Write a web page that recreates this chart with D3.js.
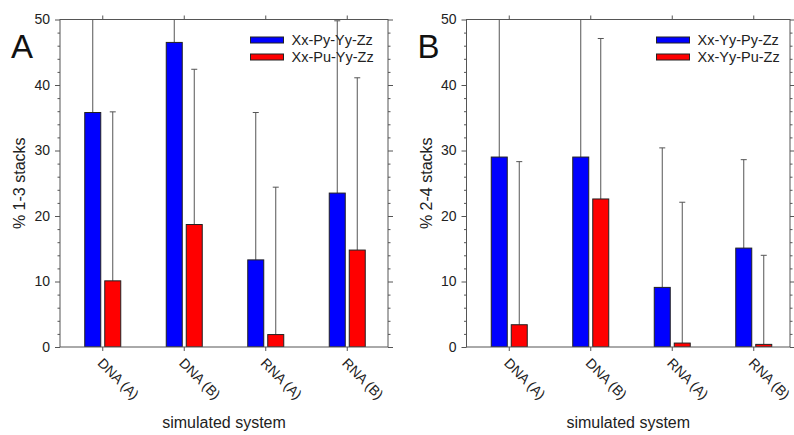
<!DOCTYPE html>
<html>
<head>
<meta charset="utf-8">
<script src="https://cdn.jsdelivr.net/npm/d3@7/dist/d3.min.js"></script>
<style>
  html, body { margin: 0; padding: 0; background: #fff; }
  svg { display: block; font-family: "Liberation Sans", Arial, sans-serif; }
</style>
</head>
<body>
<svg id="chart" width="794" height="435"></svg>
<script>
// Simulated systems on the x axis
const categories = ["DNA (A)", "DNA (B)", "RNA (A)", "RNA (B)"];
const yTicks = [0, 10, 20, 30, 40, 50];

// Panel A: % 1-3 stacks
const seriesA = ["Xx-Py-Yy-Zz", "Xx-Pu-Yy-Zz"];
const pyValuesA = [35.8, 46.5, 13.3, 23.5];
const pyErrTopA = [58.0, 60.0, 35.8, 49.8];
const puValuesA = [10.1, 18.7, 1.9, 14.8];
const puErrTopA = [35.9, 42.4, 24.4, 41.1];

// Panel B: % 2-4 stacks
const seriesB = ["Xx-Yy-Py-Zz", "Xx-Yy-Pu-Zz"];
const pyValuesB = [29.0, 29.0, 9.1, 15.1];
const pyErrTopB = [57.0, 59.0, 30.4, 28.6];
const puValuesB = [3.4, 22.6, 0.6, 0.4];
const puErrTopB = [28.3, 47.1, 22.1, 14.0];

const colors = ["#0000ff", "#ff0000"];
const axisColor = "#555";
const textColor = "#222";

const svg = d3.select("#chart");

function panel(cfg) {
  const top = 19.5, bottom = 347;
  const g = svg.append("g");
  const clipId = "clip-" + cfg.letter;

  const x = d3.scaleBand().domain(categories)
    .range([cfg.left + 2, cfg.left + 2 + 4 * 81.5]).padding(0);
  const y = d3.scaleLinear().domain([0, 50]).range([bottom, top]);

  g.append("clipPath").attr("id", clipId)
    .append("rect").attr("x", cfg.left).attr("y", top)
    .attr("width", cfg.right - cfg.left).attr("height", bottom - top);

  const plot = g.append("g").attr("clip-path", `url(#${clipId})`);

  const series = [
    { vals: cfg.py, err: cfg.pyErr, off: -10, color: colors[0] },
    { vals: cfg.pu, err: cfg.puErr, off: 10, color: colors[1] }
  ];
  const barW = 16;

  series.forEach(s => {
    const cx = c => x(c) + x.bandwidth() / 2 + s.off;
    // one-sided error bars
    const eb = plot.append("g").attr("stroke", axisColor).attr("stroke-width", 1);
    categories.forEach((c, i) => {
      eb.append("line").attr("x1", cx(c)).attr("x2", cx(c))
        .attr("y1", y(s.vals[i])).attr("y2", y(s.err[i]));
      eb.append("line").attr("x1", cx(c) - 3).attr("x2", cx(c) + 3)
        .attr("y1", y(s.err[i])).attr("y2", y(s.err[i]));
    });
    plot.append("g").selectAll("rect").data(categories).join("rect")
      .attr("x", c => cx(c) - barW / 2)
      .attr("y", (c, i) => y(s.vals[i]))
      .attr("width", barW)
      .attr("height", (c, i) => bottom - y(s.vals[i]))
      .attr("fill", s.color)
      .attr("stroke", "#222").attr("stroke-width", 1);
  });

  // frame
  g.append("rect").attr("x", cfg.left).attr("y", top)
    .attr("width", cfg.right - cfg.left).attr("height", bottom - top)
    .attr("fill", "none").attr("stroke", axisColor).attr("stroke-width", 1);

  const minor = d3.range(0, 51, 2).filter(v => v % 10 !== 0);

  // left axis
  const left = g.append("g").attr("transform", `translate(${cfg.left},0)`);
  left.call(d3.axisLeft(y).tickValues(yTicks).tickSize(5).tickPadding(5).tickFormat(d3.format("d")));
  left.append("g").call(d3.axisLeft(y).tickValues(minor).tickSize(2.5).tickFormat(""));
  // right axis
  const right = g.append("g").attr("transform", `translate(${cfg.right},0)`);
  right.call(d3.axisRight(y).tickValues(yTicks).tickSize(5).tickFormat(""));
  right.append("g").call(d3.axisRight(y).tickValues(minor).tickSize(2.5).tickFormat(""));
  // top axis
  g.append("g").attr("transform", `translate(0,${top})`)
    .call(d3.axisTop(x).tickSize(4).tickFormat(""));
  // bottom axis
  g.append("g").attr("transform", `translate(0,${bottom})`)
    .call(d3.axisBottom(x).tickSize(4).tickFormat(""));

  g.selectAll(".domain").remove();
  g.selectAll(".tick line").attr("stroke", axisColor);
  g.selectAll(".tick text").attr("fill", textColor)
    .attr("font-size", 14).attr("font-family", "Liberation Sans, Arial, sans-serif");

  // rotated category labels
  g.append("g").selectAll("text").data(categories).join("text")
    .attr("transform", c => `translate(${x(c) + x.bandwidth() / 2 - 6},${bottom + 17}) rotate(45)`)
    .attr("text-anchor", "start")
    .attr("font-size", 14)
    .attr("fill", textColor)
    .text(c => c);

  // axis titles
  g.append("text")
    .attr("x", (cfg.left + cfg.right) / 2).attr("y", 428)
    .attr("text-anchor", "middle").attr("font-size", 16).attr("fill", textColor)
    .text("simulated system");
  g.append("text")
    .attr("transform", `translate(${cfg.left - 35},${(top + bottom) / 2}) rotate(-90)`)
    .attr("text-anchor", "middle").attr("font-size", 16).attr("fill", textColor)
    .text(cfg.yLabel);

  // panel letter
  g.append("text").attr("x", cfg.left - 49).attr("y", 58)
    .attr("font-size", 33).attr("fill", "#111").text(cfg.letter);

  // legend
  const lg = g.append("g");
  cfg.series.forEach((name, i) => {
    const ly = 40 + i * 17;
    lg.append("rect").attr("x", cfg.legendX).attr("y", ly - 3)
      .attr("width", 33).attr("height", 6)
      .attr("fill", colors[i]).attr("stroke", "#222").attr("stroke-width", 1);
    lg.append("text").attr("x", cfg.legendX + 41).attr("y", ly + 5)
      .attr("font-size", 14.5).attr("fill", textColor).text(name);
  });
}

panel({
  letter: "A", left: 60, right: 388, yLabel: "% 1-3 stacks",
  series: seriesA, legendX: 250.5,
  py: pyValuesA, pyErr: pyErrTopA, pu: puValuesA, puErr: puErrTopA
});
panel({
  letter: "B", left: 466.5, right: 790, yLabel: "% 2-4 stacks",
  series: seriesB, legendX: 656.5,
  py: pyValuesB, pyErr: pyErrTopB, pu: puValuesB, puErr: puErrTopB
});
</script>
</body>
</html>
